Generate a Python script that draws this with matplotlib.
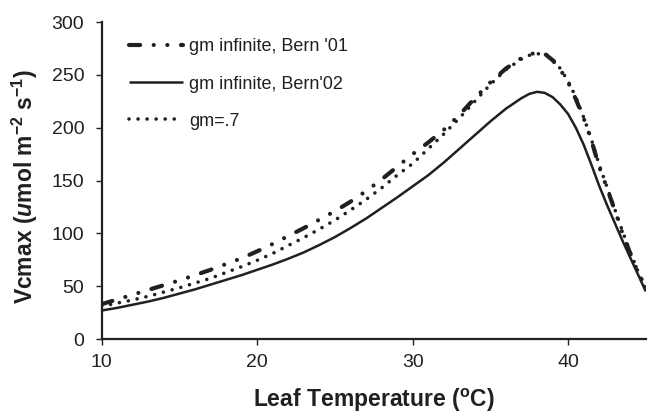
import numpy as np
import matplotlib
matplotlib.use("Agg")
import matplotlib.pyplot as plt

plt.rcParams['font.family'] = ['Liberation Sans', 'DejaVu Sans']
plt.rcParams['mathtext.fontset'] = 'custom'
plt.rcParams['mathtext.rm'] = 'Liberation Sans:bold'
plt.rcParams['mathtext.it'] = 'Liberation Sans:italic:bold'
plt.rcParams['mathtext.bf'] = 'Liberation Sans:bold'
plt.rcParams['mathtext.default'] = 'rm'
plt.rcParams['lines.scale_dashes'] = False

ink = '#231f20'

# leaf temperature (C)
temp = [10, 11, 12, 13, 14, 15, 16, 17, 18, 19, 20, 21, 22, 23, 24, 25, 26, 27,
        28, 29, 30, 31, 32, 33, 34, 35, 36, 37, 37.5, 38, 38.5, 39, 39.5, 40,
        40.5, 41, 41.5, 42, 42.5, 43, 43.5, 44, 44.5, 45]

# Vcmax, gm infinite, Bern '01
bern01 = [33, 37.5, 42, 46.5, 51, 55.5, 60.5, 65.5, 71, 76.5, 83, 90, 97.5, 105,
          113, 121, 130, 140, 151, 163, 175, 186, 198, 212, 228, 243, 256, 266,
          269.5, 271, 270, 264, 255, 243, 227, 209, 188, 163, 143, 122, 100,
          81, 63, 49]

# Vcmax, gm infinite, Bern'02
bern02 = [27, 29.5, 32.5, 35.5, 39, 43, 47, 51.5, 56, 60.5, 65.5, 70.5, 76, 82,
          89, 96.5, 105, 114, 124, 134, 144.5, 155, 167, 180, 193, 206, 218,
          228, 232, 234, 233, 229, 222, 213, 200, 184, 165, 145, 127, 110, 93,
          77, 61, 45]

# Vcmax, gm = .7
gm07 = [31, 34, 37, 40.5, 44.5, 48.5, 53, 57.5, 63, 68.5, 74.5, 81, 88.5, 96,
        104, 112.5, 122, 132, 143, 155, 166, 180, 194, 209, 225, 241, 255, 265,
        268.5, 270, 270, 265, 256, 244, 229, 210, 189, 165, 144, 123, 102, 82,
        64, 47]

fig = plt.figure(figsize=(6.54, 4.17), dpi=100)
ax = fig.add_axes([0.1555, 0.1870, 0.8320, 0.7600])

ax.plot(temp, bern01, color=ink, lw=3.0, dashes=(8, 9.8, 0.01, 9.8, 0.01, 9.8),
        dash_capstyle='round', label="gm infinite, Bern '01")
ax.plot(temp, bern02, color=ink, lw=1.8, solid_capstyle='butt',
        label="gm infinite, Bern'02")
ax.plot(temp, gm07, color=ink, lw=2.6, dashes=(0.01, 6.5),
        dash_capstyle='round', label='gm=.7')

ax.set_xlim(10, 45)
ax.set_ylim(0, 300)
ax.set_xticks([10, 20, 30, 40])
ax.set_yticks(np.arange(0, 301, 50))

for s in ['top', 'right']:
    ax.spines[s].set_visible(False)
for s in ['left', 'bottom']:
    ax.spines[s].set_linewidth(1.6)
    ax.spines[s].set_color(ink)
ax.tick_params(direction='out', length=4.5, width=1, color=ink,
               labelsize=14, labelcolor=ink)
ax.tick_params(axis='x', pad=6)
ax.tick_params(axis='y', pad=8)

ax.set_xlabel(r'Leaf Temperature ($^{o}$C)', fontsize=16.5, fontweight='bold',
              color=ink, va='top')
ax.xaxis.set_label_coords(0.5, -0.15)
ax.set_ylabel(r'Vcmax ($\mathit{u}$mol m$^{-2}$ s$^{-1}$)', fontsize=16.5,
              fontweight='bold', color=ink)
ax.yaxis.set_label_coords(-0.114, 0.48)

ax.legend(loc='upper left', bbox_to_anchor=(0.02, 1.0), frameon=False,
          fontsize=13, handlelength=3.0, handletextpad=0.35,
          labelspacing=1.12, labelcolor=ink)

fig.savefig('out.png', dpi=100)
